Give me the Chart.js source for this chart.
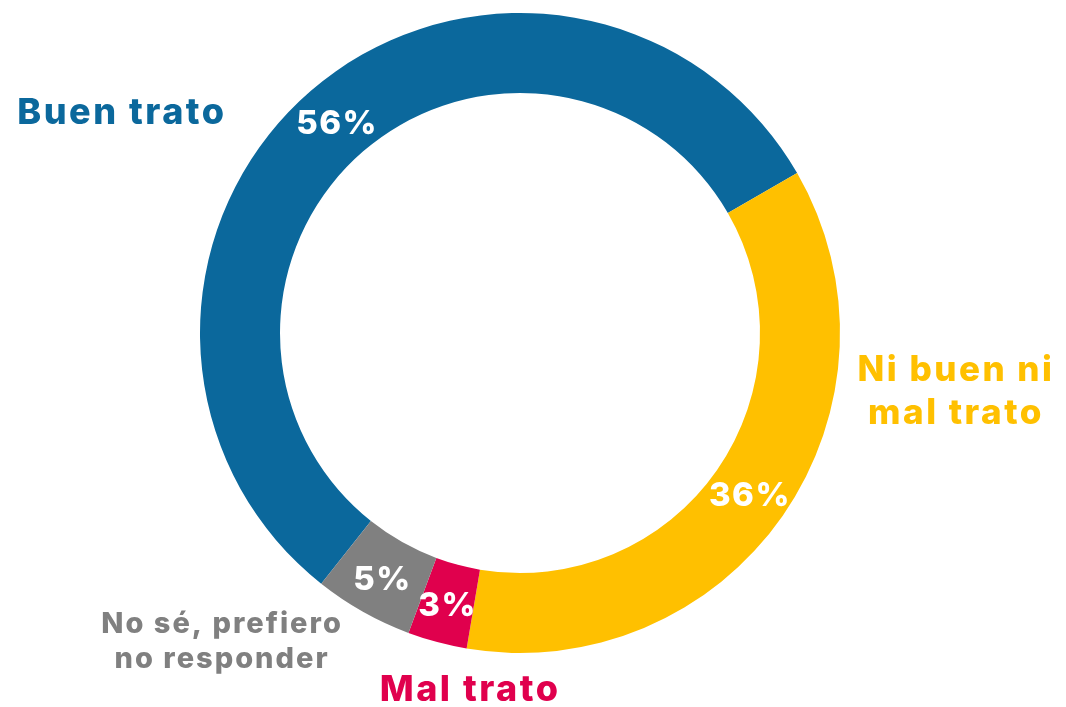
<!DOCTYPE html>
<html>
<head>
<meta charset="utf-8">
<script src="https://cdn.jsdelivr.net/npm/chart.js@4"></script>
<style>
html,body{margin:0;padding:0;background:#fff;}
#wrap{width:1066px;height:707px;}
</style>
</head>
<body>
<div id="wrap"><canvas id="c" width="1066" height="707"></canvas></div>
<script>
const categories = ["Buen trato", "Ni buen ni mal trato", "Mal trato", "No sé, prefiero no responder"];
const values = [56, 36, 3, 5];
const valueLabels = ["56%", "36%", "3%", "5%"];
const outerLabelLines = [["Buen trato"], ["Ni buen ni", "mal trato"], ["Mal trato"], ["No sé, prefiero", "no responder"]];
const colors = ["#0B689C", "#FFC000", "#E0004D", "#808080"];

const FONT = "Inter, 'Open Sans', sans-serif";
// label placement relative to the arc: factors of outer radius from center, font size, line height
const outerPos = [[-1.244, -0.6875, 36, 44], [1.3625, 0.184, 35, 43], [-0.156, 1.1156, 36, 44], [-0.931, 0.9656, 29, 35]];
const valueFont = 33;

const labelPlugin = {
  id: 'labels',
  afterDatasetsDraw(chart) {
    const ctx = chart.ctx;
    const meta = chart.getDatasetMeta(0);
    meta.data.forEach((arc, i) => {
      const p = arc.getProps(['x','y','startAngle','endAngle','innerRadius','outerRadius'], true);
      const mid = (p.startAngle + p.endAngle) / 2;
      const r = (p.innerRadius + p.outerRadius) / 2;
      ctx.save();
      ctx.fillStyle = '#fff';
      ctx.font = `800 ${valueFont}px ${FONT}`;
      ctx.letterSpacing = '1.5px';
      ctx.textAlign = 'center';
      ctx.textBaseline = 'middle';
      ctx.fillText(valueLabels[i], p.x + Math.cos(mid) * r, p.y + Math.sin(mid) * r + 3);
      // outer label
      const [fx, fy, fs, lh] = outerPos[i];
      const cx = p.x + fx * p.outerRadius;
      const cy = p.y + fy * p.outerRadius;
      const lines = outerLabelLines[i];
      ctx.fillStyle = colors[i];
      ctx.font = `800 ${fs}px ${FONT}`;
      ctx.letterSpacing = (fs * 0.07).toFixed(1) + 'px';
      lines.forEach((ln, k) => {
        ctx.fillText(ln, cx, cy + (k - (lines.length - 1) / 2) * lh);
      });
      ctx.restore();
    });
  }
};

new Chart(document.getElementById('c'), {
  type: 'doughnut',
  data: {
    labels: categories,
    datasets: [{
      data: values,
      backgroundColor: colors,
      borderWidth: 0,
      hoverOffset: 0
    }]
  },
  options: {
    responsive: false,
    animation: false,
    cutout: '75%',
    rotation: 218.4,
    layout: { padding: { left: 200, right: 226, top: 13, bottom: 54 } },
    plugins: { legend: { display: false }, tooltip: { enabled: false } }
  },
  plugins: [labelPlugin]
});
</script>
</body>
</html>
